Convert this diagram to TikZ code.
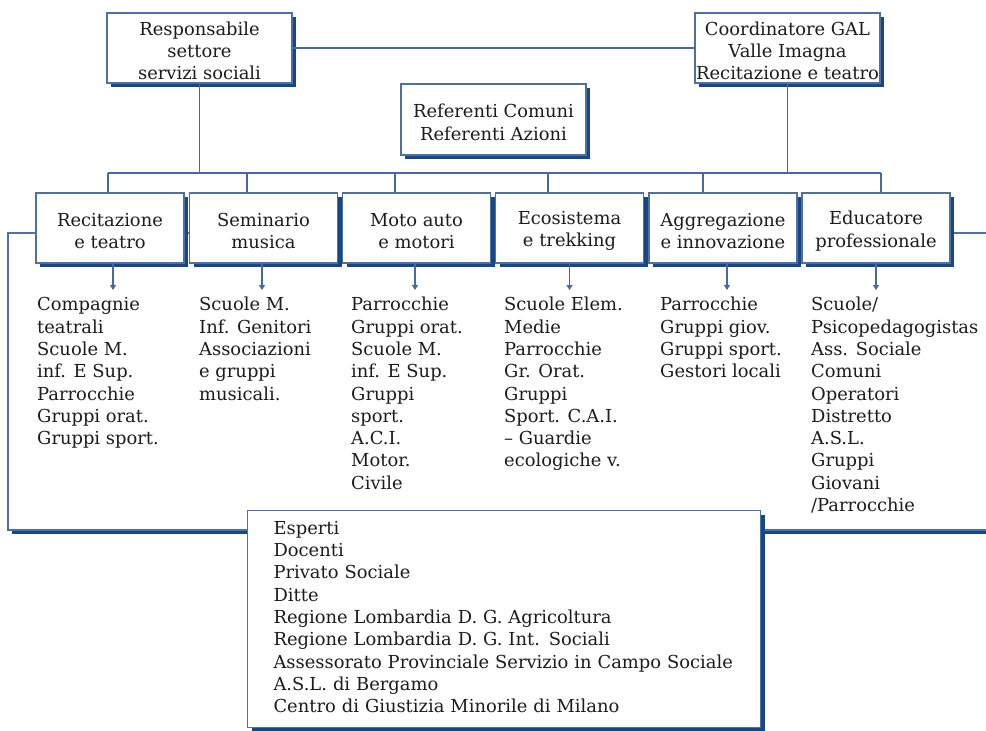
\documentclass[tikz,border=0pt]{standalone}
\usepackage{fontspec}
\setmainfont{DejaVu Serif}
\usetikzlibrary{shadows,arrows.meta}
\definecolor{edge}{RGB}{78,112,165}
\definecolor{wirec}{RGB}{70,105,160}
\definecolor{shade}{RGB}{22,72,135}
\definecolor{ink}{RGB}{28,28,28}
% extra head room on the first line of a box label
\newcommand\headroom{\rule{0pt}{19.5pt}}
\begin{document}
\begin{tikzpicture}[x=1pt,y=-1pt,
  every node/.style={font=\fontsize{17.9}{22.3}\selectfont, text=ink},
  shadowed/.style={drop shadow={shadow xshift=4pt,shadow yshift=-4pt,fill=shade,opacity=1}},
  card/.style={draw=edge, line width=1.1pt, fill=white, shadowed, align=center, inner sep=0pt},
  topcard/.style={card, minimum width=185pt, minimum height=70pt},
  rowcard/.style={card, minimum width=148pt, minimum height=70pt},
  listtext/.style={anchor=north west, align=left, inner sep=0pt},
  wire/.style={draw=wirec, line width=1.1pt},
  arr/.style={wire, -{Triangle[length=5pt,width=6pt]}, shorten >=5pt}
]
\useasboundingbox (0,0) rectangle (986,731);
\clip (0,0) rectangle (986,731);

% outer frame joining the action boxes and the partner box
\draw[draw=edge, line width=1.1pt, fill=white, shadowed] (8,233) rectangle (1010,530);

% top level
\node[topcard] (resp) at (199.5,48) {\headroom Responsabile\\settore\\servizi sociali};
\node[topcard] (coord) at (787.5,48) {\headroom Coordinatore GAL\\Valle Imagna\\Recitazione e teatro};
\node[card, minimum width=185pt, minimum height=71pt] (ref) at (493.5,119.5) {\headroom Referenti Comuni\\Referenti Azioni};

\draw[wire] (resp.east) -- (coord.west);

% bus to the actions
\coordinate (busL) at (108,173);
\coordinate (busR) at (881,173);
\draw[wire] (resp.south) -- (resp.south |- busL);
\draw[wire] (coord.south) -- (coord.south |- busL);
\draw[wire] (busL) -- (busR);

% actions
\node[rowcard] (a1) at (110,228) {\headroom Recitazione\\e teatro};
\node[rowcard] (a2) at (263.5,228) {\headroom Seminario\\musica};
\node[rowcard] (a3) at (416.5,228) {\headroom Moto auto\\e motori};
\node[rowcard] (a4) at (569.5,228) {\headroom Ecosistema\\e trekking};
\node[rowcard] (a5) at (723,228) {\headroom Aggregazione\\e innovazione};
\node[rowcard] (a6) at (876,228) {\headroom Educatore\\professionale};

\draw[wire] ([xshift=-2pt]a1.north) -- ([xshift=-2pt]a1.north |- busL);
\draw[wire] ([xshift=-16.5pt]a2.north) -- ([xshift=-16.5pt]a2.north |- busL);
\draw[wire] ([xshift=-21.5pt]a3.north) -- ([xshift=-21.5pt]a3.north |- busL);
\draw[wire] ([xshift=-21.5pt]a4.north) -- ([xshift=-21.5pt]a4.north |- busL);
\draw[wire] ([xshift=-20pt]a5.north) -- ([xshift=-20pt]a5.north |- busL);
\draw[wire] ([xshift=5pt]a6.north) -- ([xshift=5pt]a6.north |- busL);

% target groups
\node[listtext] (g1) at (37,295) {\strut Compagnie\\teatrali\\Scuole M.\\inf. E Sup.\\Parrocchie\\Gruppi orat.\\Gruppi sport.};
\node[listtext] (g2) at (199,295) {\strut Scuole M.\\Inf. Genitori\\Associazioni\\e gruppi\\musicali.};
\node[listtext] (g3) at (351,295) {\strut Parrocchie\\Gruppi orat.\\Scuole M.\\inf. E Sup.\\Gruppi\\sport.\\A.C.I.\\Motor.\\Civile};
\node[listtext] (g4) at (504,295) {\strut Scuole Elem.\\Medie\\Parrocchie\\Gr. Orat.\\Gruppi\\Sport. C.A.I.\\– Guardie\\ecologiche v.};
\node[listtext] (g5) at (660,295) {\strut Parrocchie\\Gruppi giov.\\Gruppi sport.\\Gestori locali};
\node[listtext] (g6) at (811,295) {\strut Scuole/\\Psicopedagogistas\\Ass. Sociale\\Comuni\\Operatori\\Distretto\\A.S.L.\\Gruppi\\Giovani\\/Parrocchie};

\draw[arr] ([xshift=3pt]a1.south) -- ([xshift=3pt]a1.south |- g1.north);
\draw[arr] ([xshift=-1.5pt]a2.south) -- ([xshift=-1.5pt]a2.south |- g2.north);
\draw[arr] ([xshift=-1.5pt]a3.south) -- ([xshift=-1.5pt]a3.south |- g3.north);
\draw[arr] (a4.south) -- (a4.south |- g4.north);
\draw[arr] ([xshift=4pt]a5.south) -- ([xshift=4pt]a5.south |- g5.north);
\draw[arr] (a6.south) -- (a6.south |- g6.north);

% partners
\node[card, anchor=north west, align=left, minimum width=513pt, minimum height=217pt,
      text width=461pt, inner xsep=26pt] (partners) at (247,510)
  {\strut Esperti\\Docenti\\Privato Sociale\\Ditte\\Regione Lombardia D. G. Agricoltura\\Regione Lombardia D. G. Int. Sociali\\Assessorato Provinciale Servizio in Campo Sociale\\A.S.L. di Bergamo\\Centro di Giustizia Minorile di Milano\strut};
\end{tikzpicture}
\end{document}
